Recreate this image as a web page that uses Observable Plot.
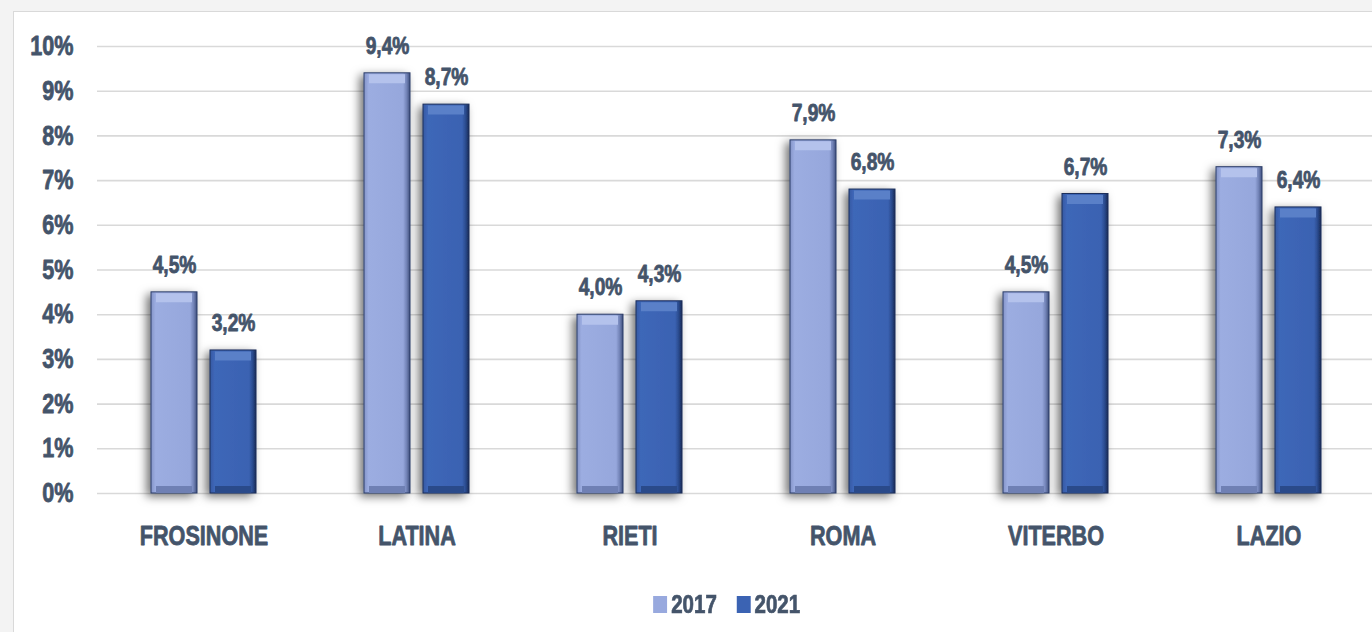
<!DOCTYPE html>
<html>
<head>
<meta charset="utf-8">
<script src="https://cdn.jsdelivr.net/npm/d3@7"></script>
<script src="https://cdn.jsdelivr.net/npm/@observablehq/plot@0.6"></script>
<style>
  html, body { margin: 0; padding: 0; width: 1372px; height: 632px; overflow: hidden; background: #f3f3f3; }
  #frame { position: absolute; left: 13px; top: 11px; width: 1420px; height: 700px; background: #fff; border: 1px solid #d9d9d9; box-sizing: border-box; }
  #chart { position: absolute; left: 0; top: 0; width: 1400px; }
  #legend { width: 1400px; height: 48px; display: flex; justify-content: center; align-items: center; padding-left: 54px; box-sizing: border-box; }
  .lg-swatches { margin: 0 !important; min-height: 0 !important; font-weight: bold !important; font-size: 25px !important; color: #44546a !important; -webkit-text-stroke: 0.7px #44546a; transform: scaleX(0.82); transform-origin: center; }
  .lg-swatch { margin-right: 24px !important; }
  .lg-swatch:last-child { margin-right: 0 !important; }
  .lg-swatch > svg { margin-right: 5px !important; }
</style>
</head>
<body>
<div id="frame"></div>
<div id="chart"></div>
<script>
const categories = ["FROSINONE", "LATINA", "RIETI", "ROMA", "VITERBO", "LAZIO"];
const years = ["2017", "2021"];
const v2017 = [4.5, 9.4, 4.0, 7.9, 4.5, 7.3];
const v2021 = [3.2, 8.7, 4.3, 6.8, 6.7, 6.4];
const yTicks = [0, 1, 2, 3, 4, 5, 6, 7, 8, 9, 10];

const colors = ["#98a9de", "#3b63b3"];
const textColor = "#44546a";

// pick a condensed face if one exists, else squeeze Liberation Sans horizontally
function hasFont(name) {
  const c = document.createElement("canvas").getContext("2d");
  c.font = "bold 26px monospace";
  const w0 = c.measureText("FROSINONE 10%").width;
  c.font = `bold 26px "${name}", monospace`;
  return Math.abs(c.measureText("FROSINONE 10%").width - w0) > 0.5;
}
const narrow = hasFont("Liberation Sans Narrow");
const fontFamily = narrow ? '"Liberation Sans Narrow", sans-serif' : '"Liberation Sans", Arial, sans-serif';
const squeeze = narrow ? 1 : 0.8;

const rows = categories.flatMap((c, i) => [
  {cat: c, year: years[0], value: v2017[i]},
  {cat: c, year: years[1], value: v2021[i]}
]);
const r17 = rows.filter(d => d.year === years[0]);
const r21 = rows.filter(d => d.year === years[1]);
const fmt = v => v.toFixed(1).replace(".", ",") + "%";

const chart = Plot.plot({
  width: 1400,
  height: 580,
  marginLeft: 95,
  marginRight: 23,
  marginTop: 46,
  marginBottom: 87,
  style: {
    fontFamily: fontFamily,
    fontSize: "27px",
    fontWeight: "bold",
    color: textColor,
    background: "transparent",
    overflow: "visible"
  },
  fx: {domain: categories, paddingInner: 0, paddingOuter: 0, label: null, axis: null},
  x: {domain: years, paddingInner: 0.2167, paddingOuter: 0.888, axis: null},
  y: {domain: [0, 10], axis: null},
  marks: [
    Plot.gridY(yTicks, {stroke: "#d9d9d9", strokeOpacity: 1, strokeWidth: 1.6}),
    Plot.axisY(yTicks, {tickFormat: d => d + "%", tickSize: 0, tickPadding: 24, label: null}),
    Plot.axisFx({anchor: "bottom", tickSize: 0, tickPadding: 32, label: null}),
    Plot.barY(r17, {fx: "cat", x: "year", y: "value", fill: "url(#g17)", stroke: "#2b3d68", strokeWidth: 1}),
    Plot.barY(r21, {fx: "cat", x: "year", y: "value", fill: "url(#g21)", stroke: "#1c2f5a", strokeWidth: 1}),
    Plot.tickY(r17, {fx: "cat", x: "year", y: "value", stroke: "#b4c2ec", strokeWidth: 9, dy: 5.5, insetLeft: 5, insetRight: 5}),
    Plot.tickY(r21, {fx: "cat", x: "year", y: "value", stroke: "#5a80c8", strokeWidth: 9, dy: 5.5, insetLeft: 5, insetRight: 5}),
    Plot.tickY(r17, {fx: "cat", x: "year", y: 0, stroke: "#6f80b4", strokeWidth: 7, dy: -4, insetLeft: 5, insetRight: 5}),
    Plot.tickY(r21, {fx: "cat", x: "year", y: 0, stroke: "#2a4a8a", strokeWidth: 7, dy: -4, insetLeft: 5, insetRight: 5}),
    Plot.text(rows, {fx: "cat", x: "year", y: "value", text: d => fmt(d.value), dy: -27, fill: textColor, fontSize: 24, fontWeight: "bold"})
  ]
});

// gradients and shadow for the bevelled bar look
const ns = "http://www.w3.org/2000/svg";
const defs = document.createElementNS(ns, "defs");
defs.innerHTML = `
  <linearGradient id="g17" x1="0" x2="1" y1="0" y2="0">
    <stop offset="0" stop-color="#8494c8"/>
    <stop offset="0.1" stop-color="#9cade1"/>
    <stop offset="0.85" stop-color="#96a7dc"/>
    <stop offset="0.93" stop-color="#7081b5"/>
    <stop offset="1" stop-color="#3f4f7c"/>
  </linearGradient>
  <linearGradient id="g21" x1="0" x2="1" y1="0" y2="0">
    <stop offset="0" stop-color="#3559a3"/>
    <stop offset="0.1" stop-color="#3e67b8"/>
    <stop offset="0.85" stop-color="#3a62b2"/>
    <stop offset="0.93" stop-color="#2a4a8c"/>
    <stop offset="1" stop-color="#172b55"/>
  </linearGradient>
  <filter id="sh" x="-40%" y="-10%" width="180%" height="125%">
    <feDropShadow dx="-4" dy="3" stdDeviation="5" flood-color="#000" flood-opacity="0.55"/>
  </filter>`;
const svg = chart.tagName.toLowerCase() === "svg" ? chart : chart.querySelector("svg");
svg.insertBefore(defs, svg.firstChild);
svg.querySelectorAll('g[aria-label="bar"] rect').forEach(r => r.setAttribute("filter", "url(#sh)"));

// heavier, condensed text like the original
svg.querySelectorAll("text").forEach(t => {
  t.setAttribute("stroke", textColor);
  t.setAttribute("stroke-width", "0.8");
  t.setAttribute("stroke-linejoin", "round");
  if (squeeze !== 1) {
    const ax = parseFloat(t.getAttribute("x")) || 0;
    const tr = t.getAttribute("transform") || "";
    t.setAttribute("transform", `${tr} translate(${ax},0) scale(${squeeze},1) translate(${-ax},0)`.trim());
  }
});

document.getElementById("chart").appendChild(chart);

const legendWrap = document.createElement("div");
legendWrap.id = "legend";
legendWrap.style.fontFamily = fontFamily;
const lg = Plot.legend({
  color: {type: "ordinal", domain: years, range: colors},
  legend: "swatches",
  swatchSize: 17,
  className: "lg"
});
lg.style.fontFamily = fontFamily;
if (squeeze === 1) lg.style.transform = "none";
legendWrap.appendChild(lg);
document.getElementById("chart").appendChild(legendWrap);
</script>
</body>
</html>
